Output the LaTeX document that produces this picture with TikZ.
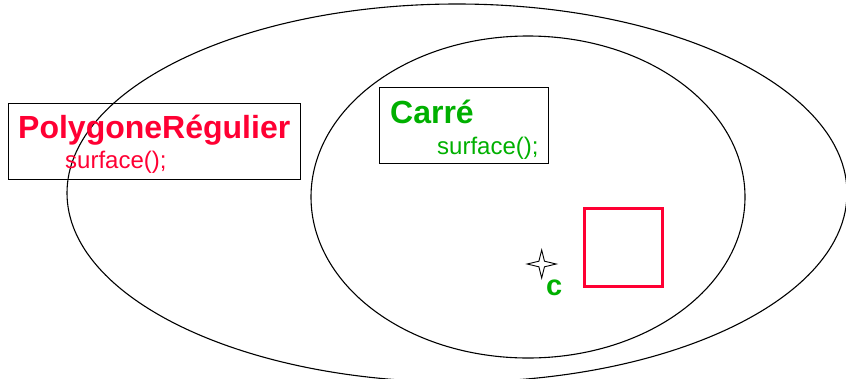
\documentclass[tikz,border=0pt]{standalone}
\usepackage{fontspec}
\usetikzlibrary{calc}
\setmainfont{Liberation Sans}
\definecolor{pred}{RGB}{255,0,51}
\definecolor{pgreen}{RGB}{0,176,0}
\begin{document}
\begin{tikzpicture}[x=1pt,y=-1pt,
  classbox/.style={draw=black, line width=0.9pt, rectangle, inner sep=0pt, anchor=north west},
  titletext/.style={anchor=base west, inner sep=0pt, font=\bfseries\fontsize{32}{32}\selectfont},
  methtext/.style={anchor=base west, inner sep=0pt, font=\fontsize{24}{24}\selectfont},
  setline/.style={draw=black, line width=1.1pt}]
\useasboundingbox (0,0) rectangle (846,378);
\clip (0,0) rectangle (846,378);
% sets
\draw[setline] (457,193) ellipse [x radius=390pt, y radius=189pt];
\draw[setline] (528,197) ellipse [x radius=217pt, y radius=161pt];
% PolygoneRegulier class box
\node[classbox, minimum width=292pt, minimum height=76pt] (polybox) at (8,103) {};
\node[titletext, text=pred] (polytitle) at (18,138) {PolygoneRégulier};
\node[methtext, text=pred] (polymeth) at (65,168) {surface();};
% Carre class box
\node[classbox, minimum width=169pt, minimum height=76pt] (carrebox) at (379,87) {};
\node[titletext, text=pgreen] (carretitle) at (390,123) {Carré};
\node[methtext, text=pgreen] (carremeth) at (437,154) {surface();};
% red square instance
\node[draw=pred, line width=2.8pt, minimum size=78pt, inner sep=0pt] (sq) at (623.5,247.5) {};
% star
\coordinate (st) at (541.7,264);
\draw[line width=0.9pt, line join=miter]
  ($(st)+(14.5,0)$) -- ($(st)+(2.8,-2.8)$) -- ($(st)+(0,-14)$) -- ($(st)+(-2.8,-2.8)$)
  -- ($(st)+(-14.5,0)$) -- ($(st)+(-2.8,2.8)$) -- ($(st)+(0,14)$) -- ($(st)+(2.8,2.8)$) -- cycle;
\node[anchor=base west, inner sep=0pt, text=pgreen, font=\bfseries\fontsize{29}{29}\selectfont] (clabel) at (546,295) {c};
\end{tikzpicture}
\end{document}
